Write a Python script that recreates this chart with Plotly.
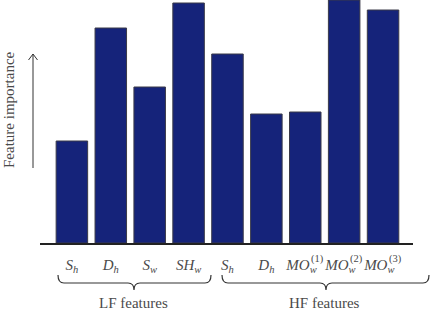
import plotly.graph_objects as go

# ---- data ----
features = ["S_h_LF", "D_h_LF", "S_w", "SH_w", "S_h_HF", "D_h_HF", "MO_w1", "MO_w2", "MO_w3"]
tick_labels = [
    "<i>S</i><sub><i>h</i></sub>",
    "<i>D</i><sub><i>h</i></sub>",
    "<i>S</i><sub><i>w</i></sub>",
    "<i>SH</i><sub><i>w</i></sub>",
    "<i>S</i><sub><i>h</i></sub>",
    "<i>D</i><sub><i>h</i></sub>",
    "<i>MO</i><sub><i>w</i></sub>\u00a0\u00a0",
    "<i>MO</i><sub><i>w</i></sub>\u00a0\u00a0",
    "<i>MO</i><sub><i>w</i></sub>\u00a0\u00a0",
]
tick_superscripts = ["", "", "", "", "", "", "(1)", "(2)", "(3)"]
importance = [102, 215, 156, 240, 189, 129, 131, 243, 233]
groups = ["LF features", "HF features"]

W, H = 431, 312
ML, MR, MT, MB = 40, 18, 0, 69
PW, PH = W - ML - MR, H - MT - MB

def px(x):
    return (x - ML) / PW

def py(y):
    return (H - MB - y) / PH

SERIF = "Liberation Serif, Times New Roman, serif"
TXT = "#4a4a4a"

fig = go.Figure(go.Bar(
    x=list(range(len(importance))),
    y=importance,
    width=0.81,
    marker=dict(color="#15237a", line=dict(color="#3a3a48", width=1)),
))

def brace(x0, x1, xm, ytop, ymid, ytip, r=6):
    return (f"M {px(x0)},{py(ytop)} Q {px(x0)},{py(ymid)} {px(x0+r)},{py(ymid)} "
            f"L {px(xm-r)},{py(ymid)} Q {px(xm)},{py(ymid)} {px(xm)},{py(ytip)} "
            f"Q {px(xm)},{py(ymid)} {px(xm+r)},{py(ymid)} "
            f"L {px(x1-r)},{py(ymid)} Q {px(x1)},{py(ymid)} {px(x1)},{py(ytop)}")

shapes = [
    dict(type="path", xref="paper", yref="paper",
         path=brace(58, 211, 134, 275, 283, 290), line=dict(color="#333", width=1.2)),
    dict(type="path", xref="paper", yref="paper",
         path=brace(222, 429, 326, 275, 283, 290), line=dict(color="#333", width=1.2)),
    dict(type="path", xref="paper", yref="paper",
         path=(f"M {px(33)},{py(168)} L {px(33)},{py(54)} "
               f"M {px(28.5)},{py(60)} L {px(33)},{py(54)} L {px(37.5)},{py(60)}"),
         line=dict(color="#333", width=1)),
]

annotations = [
    dict(text="Feature importance", xref="paper", yref="paper", x=px(9), y=py(110),
         xanchor="center", yanchor="middle",
         textangle=-90, showarrow=False, font=dict(family=SERIF, size=15, color=TXT)),
    dict(text=groups[0], xref="paper", yref="paper", x=px(133), y=py(303),
         xanchor="center", yanchor="middle",
         showarrow=False, font=dict(family=SERIF, size=15, color=TXT)),
    dict(text=groups[1], xref="paper", yref="paper", x=px(324), y=py(303),
         xanchor="center", yanchor="middle",
         showarrow=False, font=dict(family=SERIF, size=15, color=TXT)),
]
for i, s in enumerate(tick_superscripts):
    if s:
        annotations.append(dict(
            text=s, xref="x", yref="paper", x=i, y=py(259), xshift=12,
            xanchor="center", yanchor="middle", showarrow=False,
            font=dict(family=SERIF, size=10.5, color=TXT)))

fig.update_layout(
    width=W, height=H,
    margin=dict(l=ML, r=MR, t=MT, b=MB),
    paper_bgcolor="white", plot_bgcolor="white",
    showlegend=False,
    shapes=shapes,
    annotations=annotations,
    xaxis=dict(
        range=[-0.82, 8.77],
        tickvals=list(range(len(importance))),
        ticktext=tick_labels,
        showline=True, linecolor="#222", linewidth=1.5,
        ticks="outside", ticklen=7, tickcolor="rgba(0,0,0,0)",
        tickfont=dict(family=SERIF, size=15, color=TXT),
        showgrid=False, zeroline=False, tickangle=0,
    ),
    yaxis=dict(range=[0, 243], visible=False, showgrid=False, zeroline=False),
)

fig.write_html("out.html")
